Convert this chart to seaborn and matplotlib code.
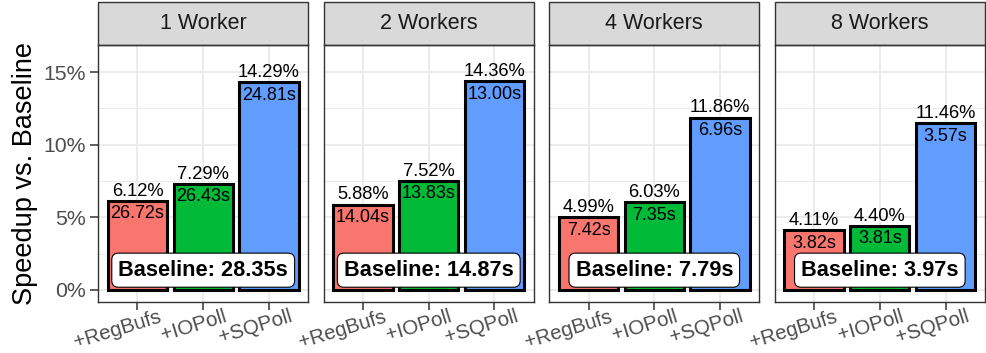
import numpy as np
import pandas as pd
import matplotlib
matplotlib.use("Agg")
import matplotlib.pyplot as plt
import seaborn as sns
from matplotlib.patches import Rectangle
from matplotlib.ticker import PercentFormatter, MultipleLocator
from matplotlib.transforms import ScaledTranslation

# data
workers = ["1 Worker", "2 Workers", "4 Workers", "8 Workers"]
variants = ["+RegBufs", "+IOPoll", "+SQPoll"]
speedup = [
    [6.12, 7.29, 14.29],
    [5.88, 7.52, 14.36],
    [4.99, 6.03, 11.86],
    [4.11, 4.40, 11.46],
]
runtime = [
    [26.72, 26.43, 24.81],
    [14.04, 13.83, 13.00],
    [7.42, 7.35, 6.96],
    [3.82, 3.81, 3.57],
]
baseline = [28.35, 14.87, 7.79, 3.97]

colors = ["#F8766D", "#00BA38", "#619CFF"]

rows = []
for w, sp, rt in zip(workers, speedup, runtime):
    for v, s, t in zip(variants, sp, rt):
        rows.append({"workers": w, "variant": v, "speedup": s / 100, "time": t})
df = pd.DataFrame(rows)

sns.set_theme(style="white")
plt.rcParams["font.family"] = ["Liberation Sans", "DejaVu Sans"]

fig, axes = plt.subplots(1, 4, figsize=(9.87, 3.53), dpi=100, sharey=True)
fig.subplots_adjust(left=0.0993, right=0.998, bottom=0.1445, top=0.8725, wspace=0.072)

dark = "#333333"
grid = "#EBEBEB"

for i, (ax, w) in enumerate(zip(axes, workers)):
    sub = df[df["workers"] == w]
    sns.barplot(data=sub, x="variant", y="speedup", hue="variant", order=variants,
                hue_order=variants, palette=colors, saturation=1, width=0.9, dodge=False,
                edgecolor="black", linewidth=2.2, legend=False, ax=ax, zorder=3)
    for j, (s, t) in enumerate(zip(sub["speedup"], sub["time"])):
        ax.text(j, s + 0.0008, f"{s*100:.2f}%", ha="center", va="bottom",
                fontsize=13.2, color="black", zorder=5)
        ax.text(j, s - 0.003, f"{t:.2f}s", ha="center", va="top",
                fontsize=13.0, color="black", zorder=5)
    ax.text(1, 0.0136, f"Baseline: {baseline[i]:.2f}s", ha="center", va="center",
            fontsize=15.7, fontweight="bold", color="black", zorder=6,
            bbox=dict(boxstyle="round,pad=0.3,rounding_size=0.3", fc="white",
                      ec="black", lw=0.8))

    ax.set_xlim(-0.6, 2.6)
    ax.set_ylim(-0.0083, 0.1686)
    ax.yaxis.set_major_locator(MultipleLocator(0.05))
    ax.yaxis.set_minor_locator(MultipleLocator(0.025))
    ax.yaxis.set_major_formatter(PercentFormatter(1.0, decimals=0))
    ax.grid(True, which="major", color=grid, lw=1.3, zorder=0)
    ax.grid(True, which="minor", axis="y", color=grid, lw=0.7, zorder=0)
    ax.set_axisbelow(True)
    ax.set_facecolor("white")
    for sp in ax.spines.values():
        sp.set_color(dark)
        sp.set_linewidth(1.0)
        sp.set_visible(True)
    ax.tick_params(axis="both", which="major", length=5.5, width=1.1, color=dark,
                   labelsize=15.3, labelcolor="#4D4D4D", bottom=True, left=(i == 0))
    ax.tick_params(axis="x", pad=1, labelsize=14.8)
    ax.tick_params(axis="y", pad=3)
    ax.tick_params(axis="y", which="minor", length=0)
    ax.set_xticks(range(len(variants)))
    ax.set_xticklabels(variants, rotation=17, ha="right", va="top",
                       rotation_mode="anchor")
    shift = ScaledTranslation(20 / 100, 4 / 100, fig.dpi_scale_trans)
    for lab in ax.get_xticklabels():
        lab.set_transform(lab.get_transform() + shift)
    ax.set_xlabel("")
    ax.set_ylabel("")

    # facet strip
    strip_h = 43 / 257
    ax.add_patch(Rectangle((0, 1), 1, strip_h, transform=ax.transAxes,
                           facecolor="#D9D9D9", edgecolor=dark, lw=1.0, clip_on=False))
    ax.text(0.5, 1 + strip_h / 2, w, transform=ax.transAxes, ha="center",
            va="center", fontsize=15.5, color="#1A1A1A")

axes[0].set_ylabel("Speedup vs. Baseline", fontsize=19.5, color="black", labelpad=4)

fig.savefig("out.png", dpi=100)
